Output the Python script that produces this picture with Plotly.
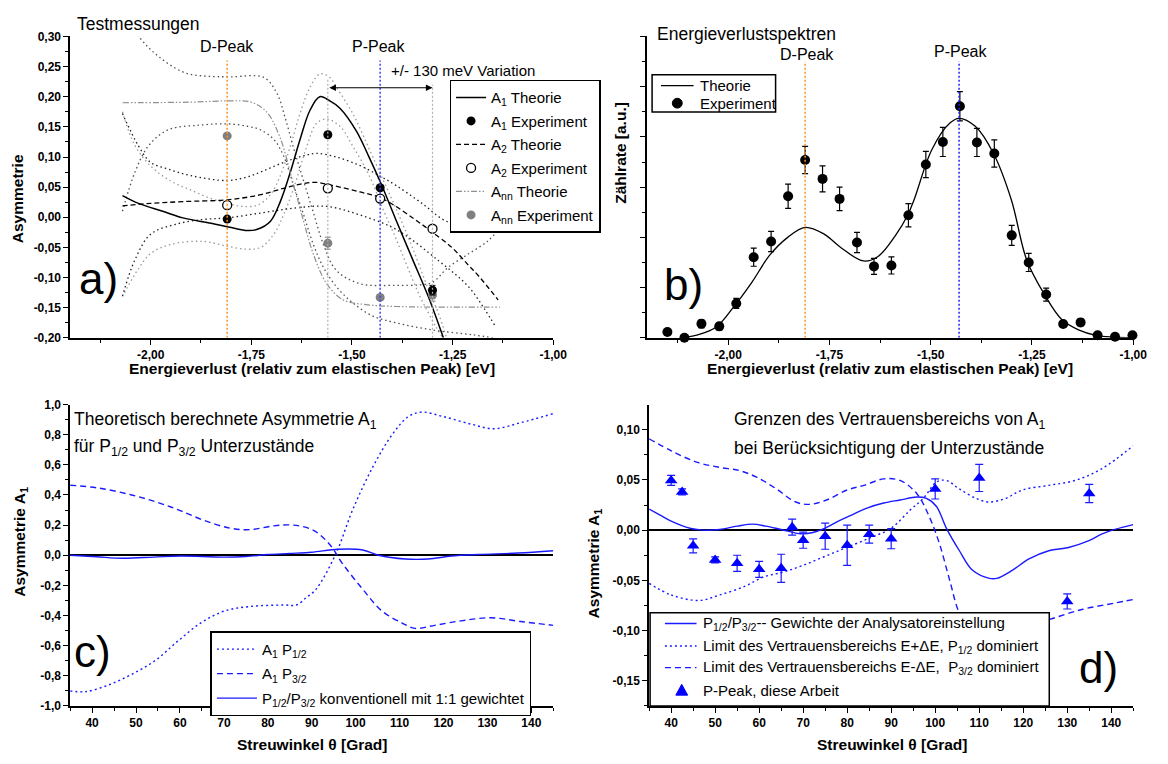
import numpy as np
import plotly.graph_objects as go

W, H = 1168, 764
FONT = "Liberation Sans, Arial, sans-serif"


def px(x):
    return x / W


def py(y):
    return 1 - y / H


def fmt(v, nd):
    v = round(v, 4) + 0.0
    return f"{v:.{nd}f}".replace(".", ",")


# ---------------- panel a : Testmessungen ----------------
D_PEAK = -1.81
P_PEAK = -1.43
VAR_LO = -1.56
VAR_HI = -1.30

A_EXP_X = [-1.81, -1.56, -1.43, -1.30]
A1_EXP = [-0.003, 0.137, 0.049, -0.121]
A1_EXP_ERR = [0.003, 0.004, 0.004, 0.008]
A2_EXP = [0.020, 0.048, 0.031, -0.019]
A2_EXP_ERR = [0.003, 0.004, 0.004, 0.004]
ANN_EXP = [0.135, -0.043, -0.133, -0.129]
ANN_EXP_ERR = [0.004, 0.010, 0.004, 0.010]

A1_TH_X = [-2.07, -2.03, -1.97, -1.92, -1.85, -1.80, -1.76, -1.735, -1.703, -1.678, -1.653,
           -1.629, -1.604, -1.58, -1.555, -1.53, -1.489, -1.457, -1.428, -1.391, -1.35, -1.309, -1.273]
A1_TH_Y = [0.036, 0.023, 0.010, -0.001, -0.010, -0.017, -0.022, -0.020, -0.007, 0.026, 0.075,
           0.129, 0.178, 0.200, 0.193, 0.181, 0.143, 0.099, 0.056, -0.004, -0.069, -0.134, -0.200]

A2_TH_X = [-2.07, -2.00, -1.92, -1.81, -1.73, -1.67, -1.62, -1.59, -1.55, -1.48, -1.425,
           -1.326, -1.30, -1.252, -1.21, -1.186, -1.137]
A2_TH_Y = [0.019, 0.023, 0.026, 0.029, 0.037, 0.048, 0.056, 0.058, 0.053, 0.042, 0.031,
           -0.012, -0.025, -0.050, -0.080, -0.097, -0.137]

ANN_TH_X = [-2.07, -1.90, -1.81, -1.75, -1.711, -1.678, -1.645, -1.62, -1.596, -1.563,
            -1.522, -1.465, -1.39, -1.30, -1.133]
ANN_TH_Y = [0.190, 0.191, 0.193, 0.191, 0.174, 0.131, 0.053, -0.007, -0.061, -0.110,
            -0.137, -0.145, -0.148, -0.149, -0.149]

A1_UP_X = [-2.07, -2.04, -2.00, -1.95, -1.90, -1.85, -1.81, -1.77, -1.735, -1.703, -1.678,
           -1.653, -1.629, -1.604, -1.579, -1.555, -1.539, -1.498, -1.457, -1.424, -1.391,
           -1.35, -1.31, -1.285, -1.265]
A1_UP_Y = [0.175, 0.120, 0.085, 0.060, 0.045, 0.031, 0.023, 0.018, 0.020, 0.037, 0.069,
           0.118, 0.172, 0.216, 0.238, 0.232, 0.216, 0.172, 0.113, 0.064, 0.015,
           -0.050, -0.120, -0.160, -0.200]

A1_LO_X = [-2.065, -2.03, -2.00, -1.95, -1.87, -1.81, -1.76, -1.727, -1.694, -1.67, -1.645,
           -1.612, -1.588, -1.563, -1.53, -1.498, -1.457, -1.424, -1.391, -1.334, -1.293, -1.275]
A1_LO_Y = [-0.125, -0.085, -0.060, -0.045, -0.040, -0.048, -0.053, -0.050, -0.028, 0.004, 0.048,
           0.118, 0.156, 0.163, 0.151, 0.118, 0.069, 0.015, -0.035, -0.127, -0.180, -0.200]

A2_UP_X = [-2.07, -2.03, -2.00, -1.957, -1.90, -1.81, -1.76, -1.72, -1.67, -1.62, -1.588,
           -1.539, -1.481, -1.432, -1.391, -1.33, -1.264, -1.20, -1.135]
A2_UP_Y = [0.172, 0.118, 0.091, 0.080, 0.069, 0.061, 0.067, 0.077, 0.091, 0.102, 0.106,
           0.100, 0.086, 0.069, 0.053, 0.025, -0.007, -0.015, -0.020]

A2_LO_X = [-2.07, -2.04, -2.00, -1.94, -1.875, -1.81, -1.727, -1.645, -1.563, -1.481,
           -1.391, -1.285, -1.211, -1.17, -1.145]
A2_LO_Y = [-0.131, -0.072, -0.028, -0.012, -0.004, -0.001, 0.007, 0.015, 0.018, 0.004,
           -0.020, -0.072, -0.115, -0.153, -0.180]

ANN_UP_X = [-2.07, -2.026, -1.981, -1.916, -1.86, -1.801, -1.719, -1.686, -1.666, -1.645,
            -1.62, -1.596, -1.571, -1.539, -1.481, -1.391, -1.33, -1.30, -1.261, -1.211,
            -1.162, -1.135]
ANN_UP_Y = [0.340, 0.297, 0.267, 0.240, 0.234, 0.233, 0.232, 0.205, 0.165, 0.115,
            0.060, 0.008, -0.045, -0.088, -0.110, -0.113, -0.112, -0.108, -0.083, -0.061,
            -0.039, -0.020]

ANN_LO_X = [-2.07, -2.039, -2.006, -1.957, -1.875, -1.81, -1.76, -1.727, -1.694, -1.67,
            -1.645, -1.62, -1.596, -1.571, -1.539, -1.498, -1.448, -1.391, -1.30, -1.20, -1.15]
ANN_LO_Y = [0.010, 0.075, 0.118, 0.145, 0.153, 0.155, 0.151, 0.145, 0.129, 0.102,
            0.053, 0.004, -0.045, -0.083, -0.115, -0.142, -0.164, -0.175, -0.187, -0.195, -0.200]

# ---------------- panel b : Energieverlustspektren ----------------
B_X = [-2.150, -2.108, -2.066, -2.022, -1.980, -1.937, -1.894, -1.852, -1.810, -1.767,
       -1.725, -1.682, -1.640, -1.597, -1.555, -1.512, -1.470, -1.428, -1.386, -1.343,
       -1.300, -1.258, -1.215, -1.173, -1.130, -1.088, -1.045, -1.002]
B_Y = [0.117, 0.0, 0.28, 0.228, 0.685, 1.605, 1.918, 2.818, 3.54, 3.164,
       2.766, 1.898, 1.422, 1.441, 2.44, 3.45, 3.90, 4.61, 3.89, 3.67,
       2.04, 1.50, 0.861, 0.274, 0.307, 0.052, 0.02, 0.052]
B_ERR = [0.05, 0.03, 0.08, 0.07, 0.10, 0.18, 0.20, 0.24, 0.27, 0.26,
         0.235, 0.20, 0.16, 0.17, 0.23, 0.26, 0.29, 0.29, 0.28, 0.27,
         0.20, 0.18, 0.13, 0.06, 0.07, 0.03, 0.02, 0.03]
B_TH_X = [-2.115, -2.075, -2.03, -1.986, -1.942, -1.897, -1.853, -1.81, -1.764, -1.719,
          -1.666, -1.63, -1.586, -1.557, -1.541, -1.497, -1.452, -1.43, -1.39, -1.345,
          -1.301, -1.263, -1.219, -1.176, -1.135, -1.092, -1.049, -1.0]
B_TH_Y = [0.0, 0.06, 0.21, 0.62, 1.10, 1.65, 2.00, 2.20, 2.07, 1.78,
          1.53, 1.62, 2.05, 2.44, 2.75, 3.75, 4.28, 4.37, 4.21, 3.67,
          2.75, 1.55, 0.86, 0.36, 0.16, 0.05, 0.015, 0.005]

# ---------------- panel c : theoretical A1 ----------------
C_P12_X = [35, 38.6, 43.8, 49, 54.3, 59.5, 64.7, 70.1, 76, 83.6, 86.5, 88.8, 91, 95.5,
           99.3, 103.8, 108.3, 112, 115, 120, 126.3, 131.5, 137.6, 145]
C_P12_Y = [-0.90, -0.905, -0.86, -0.79, -0.70, -0.57, -0.45, -0.37, -0.34, -0.33, -0.33,
           -0.28, -0.225, 0.01, 0.30, 0.58, 0.80, 0.92, 0.95, 0.92, 0.87, 0.84, 0.88, 0.94]
C_P32_X = [35, 41.5, 49, 55, 60.2, 65.6, 71.4, 76, 81.3, 85.8, 90.3, 94, 97, 101.6, 106,
           110.6, 113.5, 118, 124, 130.8, 137.6, 145]
C_P32_Y = [0.465, 0.446, 0.40, 0.35, 0.295, 0.23, 0.18, 0.17, 0.195, 0.20, 0.167, 0.075,
           -0.055, -0.225, -0.37, -0.45, -0.485, -0.465, -0.435, -0.415, -0.44, -0.465]
C_CONV_X = [35, 41, 47, 54, 60, 65, 70, 75, 80, 85, 90, 96, 101.6, 105.2, 111.3, 116.5,
            121.8, 128, 137, 145]
C_CONV_Y = [0.0, -0.01, -0.02, -0.012, -0.005, -0.008, -0.012, -0.008, 0.005, 0.012, 0.02,
            0.04, 0.035, 0.0, -0.025, -0.025, -0.005, 0.005, 0.015, 0.03]

# ---------------- panel d : confidence limits ----------------
D_EXP_X = [40, 42.5, 45, 50, 55, 60, 65, 67.5, 70, 75, 80, 85, 90, 100, 110, 130, 135]
D_EXP_Y = [0.0495, 0.038, -0.0156, -0.0296, -0.033, -0.039, -0.038, 0.003, -0.010, -0.006,
           -0.015, -0.004, -0.0085, 0.041, 0.052, -0.071, 0.0365]
D_EXP_ERR = [0.005, 0.003, 0.007, 0.003, 0.008, 0.008, 0.014, 0.008, 0.008, 0.013, 0.02,
             0.009, 0.01, 0.01, 0.0135, 0.0075, 0.009]
D_SOL_X = [35, 37.5, 40, 44.5, 47.5, 51, 55, 58.5, 61.5, 65, 69.5, 72, 75, 78, 81, 84.5,
           88.3, 92, 95.8, 98, 100.3, 102.5, 105.5, 108.5, 112.3, 114, 117.5, 121.3, 125.8,
           130.3, 134.8, 137.8, 140.8, 145]
D_SOL_Y = [0.021, 0.015, 0.009, 0.0016, 0.0, 0.0007, 0.004, 0.006, 0.004, 0.0007, -0.0036,
           -0.0026, 0.002, 0.009, 0.015, 0.022, 0.027, 0.030, 0.033, 0.0316, 0.0235, 0.0023,
           -0.0205, -0.040, -0.048, -0.048, -0.040, -0.0287, -0.0205, -0.0173, -0.0107,
           -0.004, 0.0007, 0.0055]
D_DOT_X = [35, 40, 46.4, 51, 56.5, 61, 65.5, 70, 75, 80, 85.3, 90, 94.3, 97.3, 100.3, 102.5,
           105.5, 109.3, 112.3, 116, 119.8, 125.8, 131.8, 137.8, 145]
D_DOT_Y = [-0.053, -0.0645, -0.070, -0.0645, -0.0564, -0.0466, -0.0417, -0.035, -0.026,
           -0.017, -0.0075, 0.002, 0.020, 0.0316, 0.048, 0.0495, 0.041, 0.0316, 0.028,
           0.0316, 0.040, 0.0446, 0.0495, 0.061, 0.084]
D_DASH_X = [35, 40, 46, 51, 55.5, 59.3, 63.8, 68.3, 71.5, 75.3, 80, 83.8, 88.3, 92, 95.8,
            98.8, 101, 103.3, 105.5, 108, 112, 118, 122, 125.8, 133.3, 140.8, 145]
D_DASH_Y = [0.091, 0.079, 0.0674, 0.0625, 0.0593, 0.053, 0.0414, 0.028, 0.0257, 0.030,
            0.040, 0.0446, 0.051, 0.0495, 0.0365, 0.012, -0.014, -0.050, -0.0824, -0.097,
            -0.103, -0.099, -0.093, -0.089, -0.079, -0.0726, -0.069]

# tick values
A_XTICKS = [-2.00, -1.75, -1.50, -1.25, -1.00]
A_YTICKS = [-0.20, -0.15, -0.10, -0.05, 0.00, 0.05, 0.10, 0.15, 0.20, 0.25, 0.30]
B_YTICKS = [0, 1, 2, 3, 4, 5, 6]
C_XTICKS = [40, 50, 60, 70, 80, 90, 100, 110, 120, 130, 140]
C_YTICKS = [-1.0, -0.8, -0.6, -0.4, -0.2, 0.0, 0.2, 0.4, 0.6, 0.8, 1.0]
D_YTICKS = [-0.15, -0.10, -0.05, 0.00, 0.05, 0.10]

# legend labels
LEG_B = ["Theorie", "Experiment"]
LEG_D = ["P<sub>1/2</sub>/P<sub>3/2</sub>-- Gewichte der Analysatoreinstellung",
         "Limit des Vertrauensbereichs E+\u0394E, P<sub>1/2</sub> dominiert",
         "Limit des Vertrauensbereichs E-\u0394E,  P<sub>3/2</sub> dominiert",
         "P-Peak, diese Arbeit"]

BLUE = "#1a1aff"
DOT = "2px,3px"
DASH = "6px,4px"

fig = go.Figure()

# ---- panel a traces ----
def band(x, y, color):
    fig.add_trace(go.Scatter(x=x, y=y, mode="lines",
                             line=dict(color=color, width=1.3, dash="1.5px,3px", shape="spline"),
                             showlegend=False, xaxis="x", yaxis="y", hoverinfo="skip"))

band(A1_UP_X, A1_UP_Y, "#9a9a9a")
band(A1_LO_X, A1_LO_Y, "#9a9a9a")
band(A2_UP_X, A2_UP_Y, "#202020")
band(A2_LO_X, A2_LO_Y, "#202020")
band(ANN_UP_X, ANN_UP_Y, "#505050")
band(ANN_LO_X, ANN_LO_Y, "#505050")

fig.add_trace(go.Scatter(x=A1_TH_X, y=A1_TH_Y, mode="lines", name="A<sub>1</sub> Theorie",
                         line=dict(color="black", width=1.5, shape="spline"),
                         xaxis="x", yaxis="y", legend="legend", legendrank=1, legendgroup="a1"))
fig.add_trace(go.Scatter(x=A2_TH_X, y=A2_TH_Y, mode="lines", name="A<sub>2</sub> Theorie",
                         line=dict(color="black", width=1.3, dash="5px,3px", shape="spline"),
                         xaxis="x", yaxis="y", legend="legend", legendrank=3, legendgroup="a3"))
fig.add_trace(go.Scatter(x=ANN_TH_X, y=ANN_TH_Y, mode="lines", name="A<sub>nn</sub> Theorie",
                         line=dict(color="#909090", width=1.2, dash="6px,2px,1.5px,2px,1.5px,2px", shape="spline"),
                         xaxis="x", yaxis="y", legend="legend", legendrank=5, legendgroup="a5"))
fig.add_trace(go.Scatter(x=A_EXP_X, y=ANN_EXP, mode="markers", name="A<sub>nn</sub> Experiment",
                         marker=dict(color="#808080", size=9),
                         error_y=dict(type="data", array=ANN_EXP_ERR, color="#808080", thickness=1, width=3),
                         xaxis="x", yaxis="y", legend="legend", legendrank=6, legendgroup="a6", cliponaxis=False))
fig.add_trace(go.Scatter(x=A_EXP_X, y=A2_EXP, mode="markers", name="A<sub>2</sub> Experiment",
                         marker=dict(color="white", size=9, line=dict(color="black", width=1.3)),
                         error_y=dict(type="data", array=A2_EXP_ERR, color="black", thickness=1, width=3),
                         xaxis="x", yaxis="y", legend="legend", legendrank=4, legendgroup="a4", cliponaxis=False))
fig.add_trace(go.Scatter(x=A_EXP_X, y=A1_EXP, mode="markers", name="A<sub>1</sub> Experiment",
                         marker=dict(color="black", size=9),
                         error_y=dict(type="data", array=A1_EXP_ERR, color="black", thickness=1, width=3),
                         xaxis="x", yaxis="y", legend="legend", legendrank=2, legendgroup="a2", cliponaxis=False))

# ---- panel b traces ----
fig.add_trace(go.Scatter(x=B_TH_X, y=B_TH_Y, mode="lines", name=LEG_B[0], showlegend=False,
                         line=dict(color="black", width=1.3, shape="spline"),
                         xaxis="x2", yaxis="y2"))
fig.add_trace(go.Scatter(x=B_X, y=B_Y, mode="markers", name=LEG_B[1], showlegend=False,
                         marker=dict(color="black", size=10),
                         error_y=dict(type="data", array=B_ERR, color="black", thickness=1.2, width=3),
                         xaxis="x2", yaxis="y2", cliponaxis=False))

# ---- panel c traces ----
fig.add_trace(go.Scatter(x=C_P12_X, y=C_P12_Y, mode="lines", name="A<sub>1</sub> P<sub>1/2</sub>",
                         line=dict(color=BLUE, width=1.4, dash=DOT, shape="spline"),
                         xaxis="x3", yaxis="y3", legend="legend3", legendgroup="c1"))
fig.add_trace(go.Scatter(x=C_P32_X, y=C_P32_Y, mode="lines", name="A<sub>1</sub> P<sub>3/2</sub>",
                         line=dict(color=BLUE, width=1.4, dash=DASH, shape="spline"),
                         xaxis="x3", yaxis="y3", legend="legend3", legendgroup="c2"))
fig.add_trace(go.Scatter(x=C_CONV_X, y=C_CONV_Y, mode="lines",
                         name="P<sub>1/2</sub>/P<sub>3/2</sub> konventionell mit 1:1 gewichtet",
                         line=dict(color=BLUE, width=1.4, shape="spline"),
                         xaxis="x3", yaxis="y3", legend="legend3", legendgroup="c3"))

# ---- panel d traces ----
fig.add_trace(go.Scatter(x=D_SOL_X, y=D_SOL_Y, mode="lines", name=LEG_D[0], showlegend=False,
                         line=dict(color=BLUE, width=1.4, shape="spline"), xaxis="x4", yaxis="y4"))
fig.add_trace(go.Scatter(x=D_DOT_X, y=D_DOT_Y, mode="lines", name=LEG_D[1], showlegend=False,
                         line=dict(color=BLUE, width=1.4, dash=DOT, shape="spline"), xaxis="x4", yaxis="y4"))
fig.add_trace(go.Scatter(x=D_DASH_X, y=D_DASH_Y, mode="lines", name=LEG_D[2], showlegend=False,
                         line=dict(color=BLUE, width=1.4, dash=DASH, shape="spline"), xaxis="x4", yaxis="y4"))
fig.add_trace(go.Scatter(x=D_EXP_X, y=D_EXP_Y, mode="markers", name=LEG_D[3], showlegend=False,
                         marker=dict(color="#0000ff", size=11, symbol="triangle-up"),
                         error_y=dict(type="data", array=D_EXP_ERR, color=BLUE, thickness=1.2, width=4),
                         xaxis="x4", yaxis="y4", cliponaxis=False))

# ---- axes ----
AX_A_X = [px(71), px(560)]
AX_B_X = [px(655), px(1147)]
AX_D_X = [px(657), px(1147)]
TOP_Y = [py(337), py(30)]
BOT_Y = [py(712), py(405)]


def axis(domain, anchor, rng, tickvals, ticktext, minor_vals, showlabels=True, zeroline=False):
    return dict(domain=domain, anchor=anchor, range=rng, showline=True, linecolor="black",
                linewidth=1.5, ticks="outside", ticklen=5, tickwidth=1.3, tickcolor="black",
                showgrid=False, zeroline=zeroline, zerolinecolor="black", zerolinewidth=1.5,
                tickmode="array", tickvals=tickvals, ticktext=ticktext if showlabels else None,
                showticklabels=showlabels,
                tickfont=dict(family=FONT, size=12, color="black", weight="bold"),
                minor=dict(tickmode="array", tickvals=minor_vals, ticks="outside", ticklen=3,
                           tickwidth=1.2, tickcolor="black"),
                fixedrange=True)


a_xminor = list(np.arange(-2.125, -0.99, 0.125))
a_yminor = list(np.arange(-0.175, 0.30, 0.05))
b_yminor = list(np.arange(0.5, 6.0, 1.0))
c_xminor = list(np.arange(35, 146, 5))
c_yminor = list(np.arange(-0.9, 1.0, 0.2))
d_yminor = list(np.arange(-0.175, 0.125, 0.05))

fig.update_layout(
    xaxis=axis(AX_A_X, "y", [-2.2, -1.0], A_XTICKS, [fmt(v, 2) for v in A_XTICKS], a_xminor),
    yaxis=axis(TOP_Y, "x", [-0.2, 0.3], A_YTICKS, [fmt(v, 2) for v in A_YTICKS], a_yminor),
    xaxis2=axis(AX_B_X, "y2", [-2.2, -1.0], A_XTICKS, [fmt(v, 2) for v in A_XTICKS], a_xminor),
    yaxis2=axis(TOP_Y, "x2", [0, 6], B_YTICKS, None, b_yminor, showlabels=False),
    xaxis3=axis(AX_A_X, "y3", [35, 145], C_XTICKS, [str(v) for v in C_XTICKS], c_xminor),
    yaxis3=axis(BOT_Y, "x3", [-1.0, 1.0], C_YTICKS, [fmt(v, 1) for v in C_YTICKS], c_yminor, zeroline=True),
    xaxis4=axis(AX_D_X, "y4", [35, 145], C_XTICKS, [str(v) for v in C_XTICKS], c_xminor),
    yaxis4=axis(BOT_Y, "x4", [-0.175, 0.125], D_YTICKS, [fmt(v, 2) for v in D_YTICKS], d_yminor, zeroline=True),
)

LEG = dict(bgcolor="white", bordercolor="black", borderwidth=1.5, xanchor="left", yanchor="top",
           font=dict(family=FONT, size=15, color="black"), traceorder="grouped", itemclick=False)
fig.update_layout(
    legend=dict(LEG, x=px(455), y=py(74), tracegroupgap=1, itemwidth=30),
    legend3=dict(LEG, x=px(213), y=py(636), tracegroupgap=2, itemwidth=40),
)

# ---- shapes: peak markers ----
shapes = [
    dict(type="line", xref="x", yref="y", x0=D_PEAK, x1=D_PEAK, y0=-0.2, y1=0.26,
         line=dict(color="#ff9020", width=1.5, dash="2px,2px")),
    dict(type="line", xref="x", yref="y", x0=P_PEAK, x1=P_PEAK, y0=-0.2, y1=0.26,
         line=dict(color="#4040ff", width=1.5, dash="2px,2px")),
    dict(type="line", xref="x", yref="y", x0=VAR_LO, x1=VAR_LO, y0=-0.2, y1=0.228,
         line=dict(color="#b0b0b0", width=1.2, dash="2px,2px")),
    dict(type="line", xref="x", yref="y", x0=VAR_HI, x1=VAR_HI, y0=-0.2, y1=0.22,
         line=dict(color="#b0b0b0", width=1.2, dash="2px,2px")),
    dict(type="line", xref="x2", yref="y2", x0=D_PEAK, x1=D_PEAK, y0=0, y1=5.5,
         line=dict(color="#ff9020", width=1.5, dash="2px,2px")),
    dict(type="line", xref="x2", yref="y2", x0=P_PEAK, x1=P_PEAK, y0=0, y1=5.5,
         line=dict(color="#2020ff", width=1.5, dash="2px,2px")),
]


def pshape(**kw):
    d = dict(xref="paper", yref="paper", layer="above")
    d.update(kw)
    shapes.append(d)


# manual legend box for panel b
pshape(type="rect", x0=px(660), x1=px(785), y0=py(107), y1=py(69),
       fillcolor="white", line=dict(color="black", width=1.5))
pshape(type="line", x0=px(669), x1=px(702), y0=py(80), y1=py(80), line=dict(color="black", width=1.3))
pshape(type="circle", x0=px(680.5), x1=px(690.5), y0=py(103), y1=py(93), fillcolor="black",
       line=dict(color="black", width=1))

# manual legend box for panel d
pshape(type="rect", x0=px(658), x1=px(1062), y0=py(712), y1=py(617),
       fillcolor="white", line=dict(color="black", width=1.5))
D_ROWS = [628, 651, 673, 696]
pshape(type="line", x0=px(673), x1=px(705), y0=py(D_ROWS[0]), y1=py(D_ROWS[0]), line=dict(color=BLUE, width=1.4))
pshape(type="line", x0=px(673), x1=px(705), y0=py(D_ROWS[1]), y1=py(D_ROWS[1]), line=dict(color=BLUE, width=1.4, dash=DOT))
pshape(type="line", x0=px(673), x1=px(705), y0=py(D_ROWS[2]), y1=py(D_ROWS[2]), line=dict(color=BLUE, width=1.4, dash=DASH))
tri = f"M {px(684):.5f} {py(701):.5f} L {px(696):.5f} {py(701):.5f} L {px(690):.5f} {py(690):.5f} Z"
pshape(type="path", path=tri, fillcolor="#0000ff", line=dict(color="#0000ff", width=1))

fig.update_layout(shapes=shapes)

ann = []


def txt(text, x, y, size=15, anchor="left", bold=False, angle=0, yanchor="middle"):
    ann.append(dict(text=text, x=px(x), y=py(y), xref="paper", yref="paper", showarrow=False,
                    xanchor=anchor, yanchor=yanchor, textangle=angle,
                    font=dict(family=FONT, size=size, color="black", weight="bold" if bold else "normal")))


# panel a texts
txt("Testmessungen", 76, 17, size=17.5)
txt("D-Peak", 230, 40, size=16, anchor="center")
txt("P-Peak", 383, 40, size=16, anchor="center")
txt("+/- 130 meV Variation", 394, 65, size=15)
txt("a)", 100, 277, size=44, anchor="center")
# panel b texts
txt("Energieverlustspektren", 663, 28, size=17.5)
txt("D-Peak", 817, 48, size=16, anchor="center")
txt("P-Peak", 972, 45, size=16, anchor="center")
txt("b)", 692, 283, size=44, anchor="center")
txt(LEG_B[0], 706, 80, size=15)
txt(LEG_B[1], 706, 98, size=15)
# panel c texts
txt("Theoretisch berechnete Asymmetrie A<sub>1</sub>", 73, 421, size=17.5)
txt("für P<sub>1/2</sub> und P<sub>3/2</sub> Unterzustände", 73, 449, size=17.5)
txt("c)", 94, 657, size=44, anchor="center")
# panel d texts
txt("Grenzen des Vertrauensbereichs von A<sub>1</sub>", 741, 421, size=17.5)
txt("bei Berücksichtigung der Unterzustände", 741, 449, size=17.5)
txt("d)", 1112, 673, size=44, anchor="center")
for r, lab in zip(D_ROWS, LEG_D):
    txt(lab, 709, r, size=15)

# axis titles
XT = "Energieverlust (relativ zum elastischen Peak) [eV]"
txt(XT, 316, 368, size=15.5, anchor="center", bold=True)
txt(XT, 901, 368, size=15.5, anchor="center", bold=True)
txt("Streuwinkel θ [Grad]", 316, 751, size=15.5, anchor="center", bold=True)
txt("Streuwinkel θ [Grad]", 903, 751, size=15.5, anchor="center", bold=True)
txt("Asymmetrie", 18, 195, size=15.5, anchor="center", bold=True, angle=-90)
txt("Zählrate [a.u.]", 628, 148, size=15.5, anchor="center", bold=True, angle=-90)
txt("Asymmetrie A<sub>1</sub>", 20, 545, size=15.5, anchor="center", bold=True, angle=-90)
txt("Asymmetrie A<sub>1</sub>", 602, 567, size=15.5, anchor="center", bold=True, angle=-90)

# variation arrow
ann.append(dict(x=VAR_HI, y=0.215, ax=VAR_LO, ay=0.215, xref="x", yref="y", axref="x", ayref="y",
                text="", showarrow=True, arrowhead=2, startarrowhead=2, arrowside="end+start",
                arrowwidth=1.1, arrowsize=1.2, startarrowsize=1.2, arrowcolor="black",
                standoff=0, startstandoff=0))

fig.update_layout(annotations=ann)

fig.update_layout(width=W, height=H, margin=dict(l=0, r=0, t=0, b=0), autosize=False,
                  paper_bgcolor="white", plot_bgcolor="white", separators=",.",
                  font=dict(family=FONT, color="black"), hovermode=False)

fig.write_html("out.html")
